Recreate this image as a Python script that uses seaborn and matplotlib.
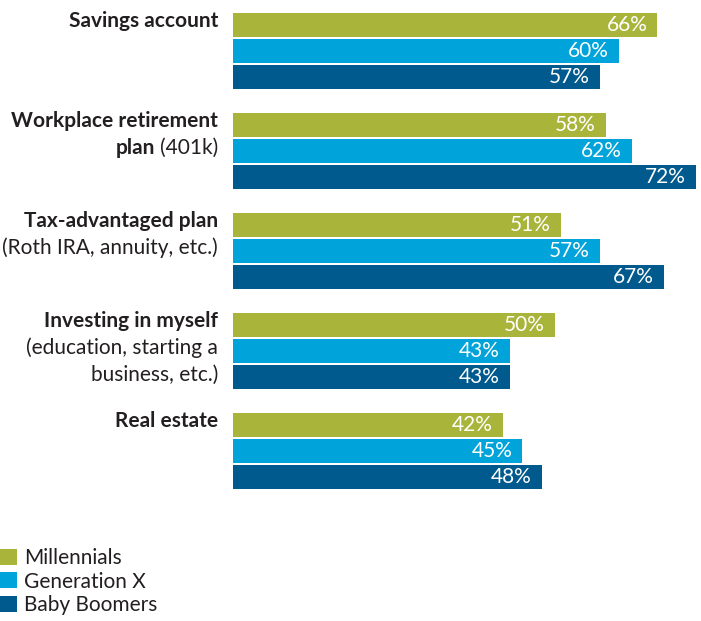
# Grouped horizontal bar chart: where each generation keeps its savings
import numpy as np
import pandas as pd
import seaborn as sns
import matplotlib.pyplot as plt

# Data
categories = ["Savings account", "Workplace retirement plan", "Tax-advantaged plan",
              "Investing in myself", "Real estate"]
generations = ["Millennials", "Generation X", "Baby Boomers"]
millennials = [66, 58, 51, 50, 42]
gen_x = [60, 62, 57, 43, 45]
boomers = [57, 72, 67, 43, 48]

# label lines: list of (bold part, normal part) per line
label_lines = [
    [("Savings account", "")],
    [("Workplace retirement", ""), ("plan", "(401k)")],
    [("Tax-advantaged plan", ""), ("", "(Roth IRA, annuity, etc.)")],
    [("Investing in myself", ""), ("", "(education, starting a"), ("", "business, etc.)")],
    [("Real estate", "")],
]

colors = ["#A9B43A", "#00A3DA", "#005A8D"]
text_color = "#231F20"

df = pd.DataFrame({
    "category": categories * 3,
    "generation": np.repeat(generations, len(categories)),
    "value": millennials + gen_x + boomers,
})

sns.set_theme(style="white")
plt.rcParams["font.family"] = ["Lato", "DejaVu Sans"]
fs = 15

fig = plt.figure(figsize=(7.01, 6.21), dpi=100)
ax = fig.add_axes([233 / 701, 1 - 500 / 621, 463 / 701, 500 / 621])
sns.barplot(data=df, y="category", x="value", hue="generation", palette=colors,
            orient="h", width=0.78, gap=0.08, errorbar=None, linewidth=0,
            saturation=1, ax=ax)
ax.set_xlim(0, 72)
ax.set_ylim(4.49, -0.51)

# value labels inside the bar ends
for cont in ax.containers:
    for p in cont.patches:
        w = p.get_width()
        ax.annotate(f"{w:.0f}%", xy=(w, p.get_y() + p.get_height() / 2),
                    xytext=(-10, 0), textcoords="offset pixels",
                    ha="right", va="center", color="white", fontsize=fs)

# category labels
handles, labels = ax.get_legend_handles_labels()
ax.get_legend().remove()
ax.set_axis_off()

trans = ax.get_yaxis_transform()
xlab = (218 - 233) / 463
for i, lines in enumerate(label_lines):
    for k, (bold, normal) in enumerate(lines):
        y = i - 0.39 + 0.15 + 0.27 * k
        if normal:
            t = ax.text(xlab, y, normal, transform=trans, ha="right", va="baseline",
                        fontsize=fs, color=text_color, clip_on=False)
            if bold:
                ax.annotate(bold, xy=(0, 0.5), xycoords=t, xytext=(-5, 0),
                            textcoords="offset pixels", ha="right", va="center",
                            fontsize=fs, fontweight="bold", color=text_color)
        else:
            ax.text(xlab, y, bold, transform=trans, ha="right", va="baseline",
                    fontsize=fs, fontweight="bold", color=text_color, clip_on=False)

# legend at the bottom left
leg = fig.legend(handles, labels, loc="upper left", bbox_to_anchor=(0, 1 - 548 / 621),
                 bbox_transform=fig.transFigure, frameon=False, fontsize=fs,
                 handlelength=0.82, handleheight=0.82, handletextpad=0.32,
                 labelspacing=0.17, borderpad=0, borderaxespad=0)
for txt in leg.get_texts():
    txt.set_color(text_color)

fig.savefig("out.png", dpi=100)
